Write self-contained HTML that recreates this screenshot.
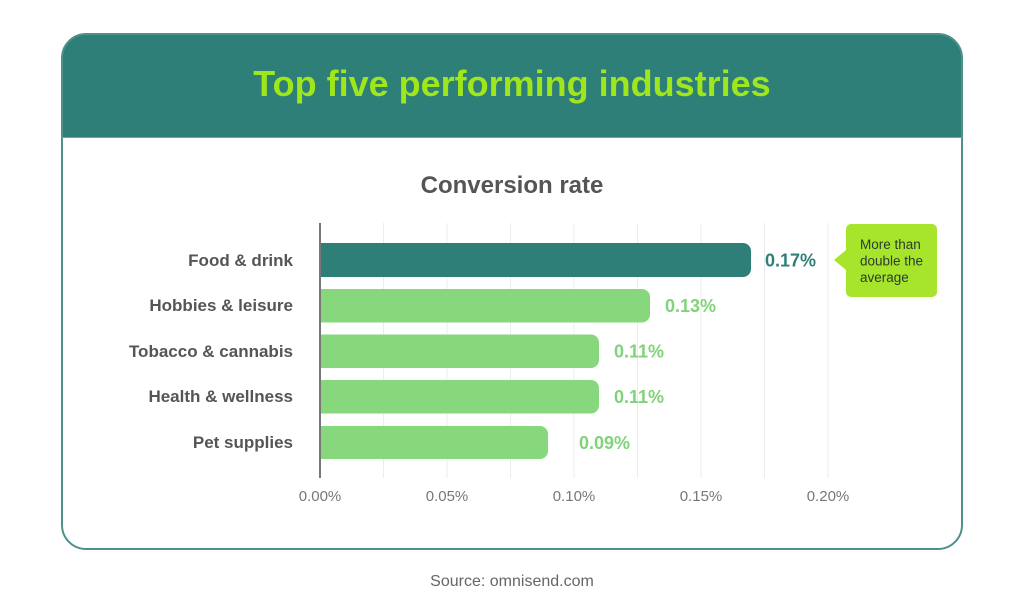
<!DOCTYPE html>
<html>
<head>
<meta charset="utf-8">
<style>
  html, body { margin: 0; padding: 0; background: #ffffff; }
  body { width: 1024px; height: 611px; overflow: hidden; position: relative; }
  svg { position: absolute; left: 0; top: 0; }
</style>
</head>
<body>
<svg width="1024" height="611" viewBox="0 0 1024 611" xmlns="http://www.w3.org/2000/svg">
  <defs>
    <clipPath id="cardclip">
      <rect x="62" y="34" width="900" height="515" rx="24" ry="24"/>
    </clipPath>
  </defs>
  <!-- card -->
  <rect x="62" y="34" width="900" height="515" rx="24" ry="24" fill="#ffffff"/>
  <rect x="62" y="34" width="900" height="103" fill="#2f7f79" clip-path="url(#cardclip)"/>
  <rect x="62" y="34" width="900" height="515" rx="24" ry="24" fill="none" stroke="#4f918c" stroke-width="2"/>
  <line x1="62" y1="137.5" x2="962" y2="137.5" stroke="#6aa9a4" stroke-width="1"/>

  <!-- title -->
  <text x="512" y="96" text-anchor="middle" font-family="Liberation Sans, sans-serif" font-weight="bold" font-size="36" fill="#9fe61c">Top five performing industries</text>

  <!-- subtitle -->
  <text x="512" y="193" text-anchor="middle" font-family="Liberation Sans, sans-serif" font-weight="bold" font-size="24" fill="#555555">Conversion rate</text>

  <!-- gridlines -->
  <g stroke="#ececec" stroke-width="1">
    <line x1="383.5" y1="223" x2="383.5" y2="478"/>
    <line x1="447" y1="223" x2="447" y2="478"/>
    <line x1="510.5" y1="223" x2="510.5" y2="478"/>
    <line x1="574" y1="223" x2="574" y2="478"/>
    <line x1="637.5" y1="223" x2="637.5" y2="478"/>
    <line x1="701" y1="223" x2="701" y2="478"/>
    <line x1="764.5" y1="223" x2="764.5" y2="478"/>
    <line x1="828" y1="223" x2="828" y2="478"/>
  </g>

  <!-- bars -->
  <path d="M320 243 H743 A8 8 0 0 1 751 251 V269 A8 8 0 0 1 743 277 H320 Z" fill="#2f7f79"/>
  <path d="M320 289 H642 A8 8 0 0 1 650 297 V314.5 A8 8 0 0 1 642 322.5 H320 Z" fill="#87d87d"/>
  <path d="M320 334.5 H591 A8 8 0 0 1 599 342.5 V360 A8 8 0 0 1 591 368 H320 Z" fill="#87d87d"/>
  <path d="M320 380 H591 A8 8 0 0 1 599 388 V405.5 A8 8 0 0 1 591 413.5 H320 Z" fill="#87d87d"/>
  <path d="M320 426 H540 A8 8 0 0 1 548 434 V451 A8 8 0 0 1 540 459 H320 Z" fill="#87d87d"/>

  <!-- axis -->
  <line x1="320" y1="223" x2="320" y2="478" stroke="#777777" stroke-width="2"/>

  <!-- category labels -->
  <g font-family="Liberation Sans, sans-serif" font-weight="bold" font-size="17" fill="#555555" text-anchor="end">
    <text x="293" y="266">Food &amp; drink</text>
    <text x="293" y="311">Hobbies &amp; leisure</text>
    <text x="293" y="357">Tobacco &amp; cannabis</text>
    <text x="293" y="402">Health &amp; wellness</text>
    <text x="293" y="448">Pet supplies</text>
  </g>

  <!-- value labels -->
  <g font-family="Liberation Sans, sans-serif" font-weight="bold" font-size="18">
    <text x="765" y="266.5" fill="#2f7f79">0.17%</text>
    <text x="665" y="312" fill="#80d37a">0.13%</text>
    <text x="614" y="357.5" fill="#80d37a">0.11%</text>
    <text x="614" y="403" fill="#80d37a">0.11%</text>
    <text x="579" y="449" fill="#80d37a">0.09%</text>
  </g>

  <!-- callout -->
  <path d="M851 224 H932 A5 5 0 0 1 937 229 V292 A5 5 0 0 1 932 297 H851 A5 5 0 0 1 846 292 V270 L834 260 L846 250 V229 A5 5 0 0 1 851 224 Z" fill="#a6e52b"/>
  <g font-family="Liberation Sans, sans-serif" font-size="13.5" fill="#2c3b2e">
    <text x="860" y="249">More than</text>
    <text x="860" y="265.5">double the</text>
    <text x="860" y="282">average</text>
  </g>

  <!-- tick labels -->
  <g font-family="Liberation Sans, sans-serif" font-size="15" fill="#777777" text-anchor="middle">
    <text x="320" y="501">0.00%</text>
    <text x="447" y="501">0.05%</text>
    <text x="574" y="501">0.10%</text>
    <text x="701" y="501">0.15%</text>
    <text x="828" y="501">0.20%</text>
  </g>

  <!-- source -->
  <text x="512" y="586" text-anchor="middle" font-family="Liberation Sans, sans-serif" font-size="16" fill="#666666">Source: omnisend.com</text>
</svg>
</body>
</html>
